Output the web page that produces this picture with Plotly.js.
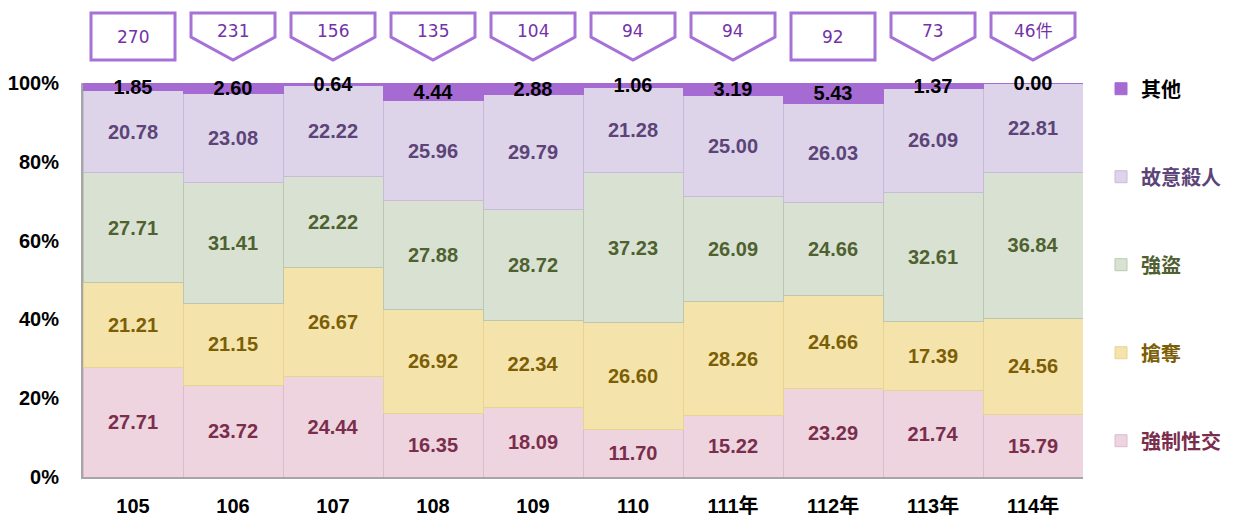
<!DOCTYPE html>
<html>
<head>
<meta charset="utf-8">
<script src="https://cdn.plot.ly/plotly-3.0.1.min.js"></script>
<style>html,body{margin:0;padding:0;background:#fff;}#chart{width:1239px;height:518px;}</style>
</head>
<body>
<div id="chart"></div>
<script>
// ---- data ----
const categories = ['105', '106', '107', '108', '109', '110', '111年', '112年', '113年', '114年'];
const caseCounts = [270, 231, 156, 135, 104, 94, 94, 92, 73, 46];
const caseCountLabels = ['270', '231', '156', '135', '104', '94', '94', '92', '73', '46件'];
const rapeShare     = [27.71, 23.72, 24.44, 16.35, 18.09, 11.70, 15.22, 23.29, 21.74, 15.79]; // 強制性交
const snatchShare   = [21.21, 21.15, 26.67, 26.92, 22.34, 26.60, 28.26, 24.66, 17.39, 24.56]; // 搶奪
const robberyShare  = [27.71, 31.41, 22.22, 27.88, 28.72, 37.23, 26.09, 24.66, 32.61, 36.84]; // 強盜
const homicideShare = [20.78, 23.08, 22.22, 25.96, 29.79, 21.28, 25.00, 26.03, 26.09, 22.81]; // 故意殺人
const otherShare    = [1.85, 2.60, 0.64, 4.44, 2.88, 1.06, 3.19, 5.43, 1.37, 0.00];         // 其他
const yTicks = [0, 20, 40, 60, 80, 100];

// ---- styles ----
const calloutKind = ['rect', 'pent', 'pent', 'pent', 'pent', 'pent', 'pent', 'rect', 'pent', 'pent'];
const BOLD = '"Liberation Sans", Arial, "Noto Sans CJK TC", sans-serif';
const CJK = '"Noto Sans CJK TC", "Noto Sans CJK SC", sans-serif';

function fmt(a) { return a.map(v => v.toFixed(2)); }

function barTrace(name, vals, fill, edge, txtColor, rank) {
  return {
    type: 'bar', x: categories, y: vals,
    name: '<span style="color:' + txtColor + '">' + name + '</span>',
    legendgroup: name, legendrank: rank,
    marker: { color: fill, line: { color: edge, width: 1 } },
    text: fmt(vals), textposition: 'inside', insidetextanchor: 'middle',
    textangle: 0, constraintext: 'none',
    textfont: { family: BOLD, size: 20, color: txtColor, weight: 'bold' },
    hoverinfo: 'x+text+name'
  };
}

const traces = [
  barTrace('強制性交', rapeShare, '#edd4de', '#dcbccb', '#7a2d4c', 5),
  barTrace('搶奪', snatchShare, '#f4e4ab', '#e8d391', '#7c5e06', 4),
  barTrace('強盜', robberyShare, '#d9e2d2', '#bac8af', '#4f6130', 3),
  barTrace('故意殺人', homicideShare, '#ddd4ea', '#c8badb', '#5c4478', 2),
];
const otherTrace = barTrace('其他', otherShare, '#a66bd3', '#a66bd3', '#000', 1);
otherTrace.textposition = 'none';
traces.push(otherTrace);

// label for 其他, centred on the (normalised) top segment
const totals = categories.map((c, i) => rapeShare[i] + snatchShare[i] + robberyShare[i] + homicideShare[i] + otherShare[i]);
traces.push({
  type: 'scatter', mode: 'text', x: categories,
  y: otherShare.map((v, i) => 100 - (v / totals[i] * 100) / 2 - 0.5),
  text: fmt(otherShare), textposition: 'middle center',
  textfont: { family: BOLD, size: 20, color: '#000', weight: 'bold' },
  showlegend: false, hoverinfo: 'skip', cliponaxis: false
});

// callout boxes with case counts
const PX0 = 477, PH = 394;
const py = p => (PX0 - p) / PH;
const yTop = py(13), yShoulder = py(37), yBottom = py(60);
const shapes = [], annotations = [];
categories.forEach((c, i) => {
  const x0 = i - 0.42, x1 = i + 0.42;
  const line = { color: '#a672d8', width: 3 };
  if (calloutKind[i] === 'rect') {
    shapes.push({ type: 'rect', xref: 'x', yref: 'paper', x0: x0, x1: x1, y0: yBottom, y1: yTop, line: line, fillcolor: '#fff' });
  } else {
    shapes.push({ type: 'path', xref: 'x', yref: 'paper',
      path: `M ${x0},${yTop} L ${x1},${yTop} L ${x1},${yShoulder} L ${i},${yBottom} L ${x0},${yShoulder} Z`,
      line: line, fillcolor: '#fff' });
  }
  annotations.push({
    xref: 'x', yref: 'paper', x: i,
    y: calloutKind[i] === 'rect' ? py(37) : py(31),
    text: caseCountLabels[i], showarrow: false,
    font: { family: '"DejaVu Sans", "Noto Sans CJK TC", sans-serif', size: 17, color: '#7332a8' },
    xanchor: 'center', yanchor: 'middle'
  });
});

const layout = {
  width: 1239, height: 518,
  margin: { l: 83, r: 156, t: 83, b: 41 },
  paper_bgcolor: '#fff', plot_bgcolor: '#fff',
  barmode: 'stack', barnorm: 'percent', bargap: 0,
  showlegend: true,
  legend: {
    x: 1.018, xanchor: 'left', y: 1.035, yanchor: 'top',
    traceorder: 'grouped', tracegroupgap: 59, maxheight: 500,
    font: { family: CJK, size: 20, weight: 'bold' },
    itemwidth: 30
  },
  xaxis: {
    type: 'category', range: [-0.5, categories.length - 0.5], autorange: false,
    showline: true, linecolor: '#a6a6a6', linewidth: 2,
    ticks: 'outside', ticklen: 10, tickcolor: 'rgba(0,0,0,0)', tickangle: 0,
    tickfont: { family: BOLD + ', ' + CJK, size: 20, color: '#000', weight: 'bold' },
    showgrid: false, fixedrange: true
  },
  yaxis: {
    range: [0, 100], autorange: false, tickvals: yTicks, ticktext: yTicks.map(v => v + '%'),
    showline: true, linecolor: '#a6a6a6', linewidth: 2,
    ticks: 'outside', ticklen: 18, tickcolor: 'rgba(0,0,0,0)',
    tickfont: { family: BOLD, size: 20, color: '#000', weight: 'bold' },
    showgrid: false, zeroline: false, fixedrange: true
  },
  shapes: shapes,
  annotations: annotations
};

Plotly.newPlot('chart', traces, layout, { displayModeBar: false, staticPlot: true });
</script>
</body>
</html>
